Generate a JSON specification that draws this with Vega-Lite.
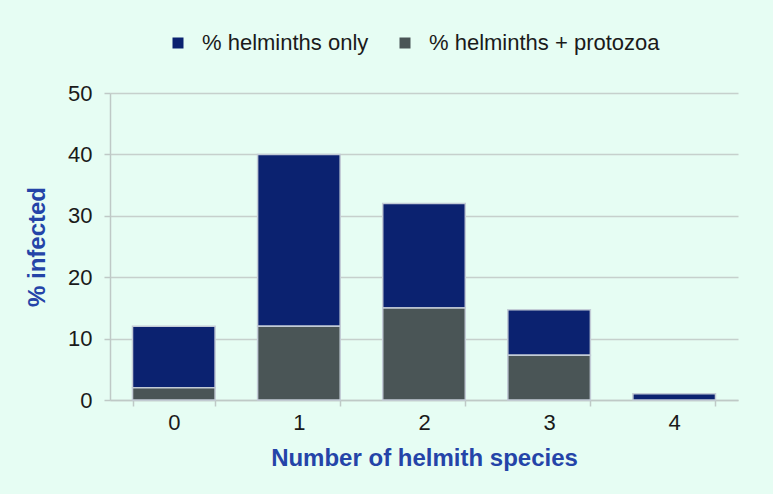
{
  "$schema": "https://vega.github.io/schema/vega-lite/v6.json",
  "width": 628,
  "height": 307,
  "autosize": {"type": "none"},
  "padding": {"left": 110, "top": 93, "right": 35, "bottom": 94},
  "background": "#E6FDF3",
  "config": {
    "view": {"stroke": null},
    "font": "Liberation Sans",
    "axis": {
      "labelFont": "Liberation Sans",
      "labelFontSize": 22,
      "labelColor": "#1a1a1a",
      "titleFont": "Liberation Sans",
      "titleFontWeight": "bold",
      "titleFontSize": 24,
      "titleColor": "#2444A8",
      "domainColor": "#BFC9C6",
      "tickColor": "#BFC9C6",
      "gridColor": "#C6D0CC",
      "domainWidth": 1.5,
      "tickWidth": 1.5,
      "gridWidth": 1.5
    }
  },
  "data": {
    "values": [
      {"species": "0", "series": "% helminths only", "value": 10},
      {"species": "0", "series": "% helminths + protozoa", "value": 2},
      {"species": "1", "series": "% helminths only", "value": 28},
      {"species": "1", "series": "% helminths + protozoa", "value": 12},
      {"species": "2", "series": "% helminths only", "value": 17},
      {"species": "2", "series": "% helminths + protozoa", "value": 15},
      {"species": "3", "series": "% helminths only", "value": 7.4},
      {"species": "3", "series": "% helminths + protozoa", "value": 7.3},
      {"species": "4", "series": "% helminths only", "value": 1}
    ]
  },
  "mark": {"type": "bar", "stroke": "#C3CCD6", "strokeWidth": 1.5},
  "encoding": {
    "x": {
      "field": "species",
      "type": "ordinal",
      "scale": {"paddingInner": 0.34, "paddingOuter": 0.18},
      "axis": {
        "title": "Number of helmith species",
        "labelAngle": 0,
        "tickBand": "extent",
        "tickSize": 6,
        "labelPadding": 6,
        "titlePadding": 13,
        "grid": false
      }
    },
    "y": {
      "field": "value",
      "type": "quantitative",
      "stack": "zero",
      "scale": {"domain": [0, 50]},
      "axis": {
        "title": "% infected",
        "values": [0, 10, 20, 30, 40, 50],
        "tickSize": 6,
        "labelPadding": 12,
        "titlePadding": 18,
        "grid": true
      }
    },
    "color": {
      "field": "series",
      "type": "nominal",
      "scale": {
        "domain": ["% helminths only", "% helminths + protozoa"],
        "range": ["#0B2270", "#4A5556"]
      },
      "legend": {
        "title": null,
        "orient": "none",
        "direction": "horizontal",
        "legendX": 57,
        "legendY": -61,
        "symbolType": "square",
        "symbolSize": 121,
        "symbolStrokeWidth": 0,
        "labelFont": "Liberation Sans",
        "labelFontSize": 22,
        "labelLimit": 400,
        "labelColor": "#1a1a1a",
        "columnPadding": 25,
        "labelOffset": 13
      }
    },
    "order": {"field": "series", "sort": "ascending"}
  }
}
